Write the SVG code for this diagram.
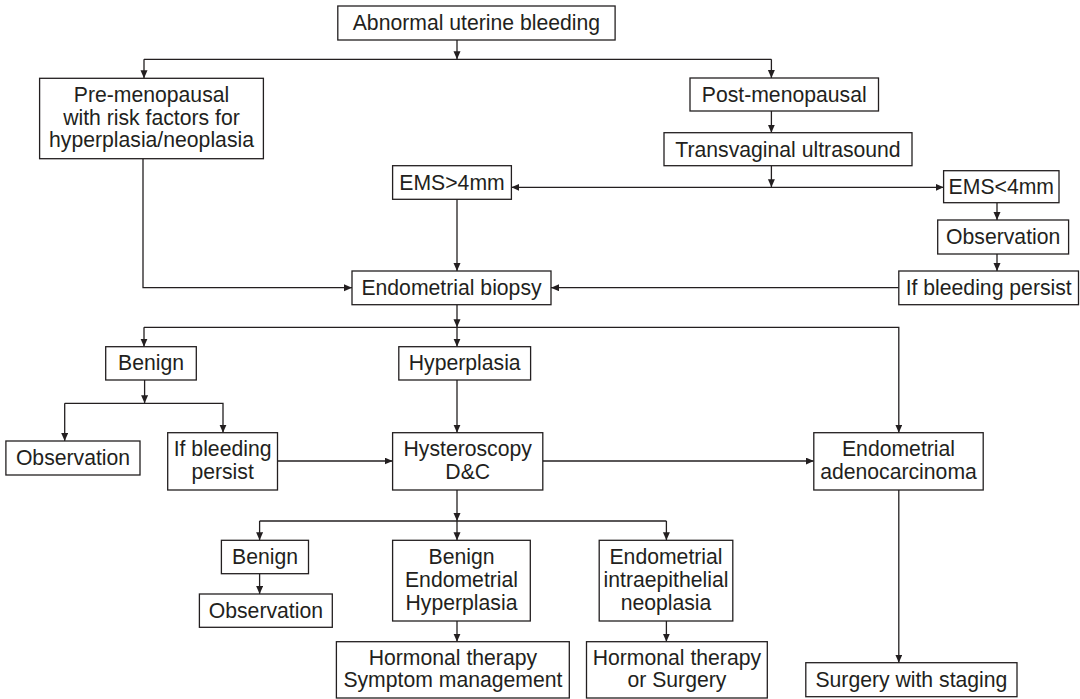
<svg xmlns="http://www.w3.org/2000/svg" width="1080" height="699" viewBox="0 0 1080 699">
<style>
.box{fill:#fff;stroke:#231f20;stroke-width:1.3}
.t{font-family:"Liberation Sans",Arial,sans-serif;font-size:21.2px;fill:#231f20;text-anchor:middle}
.c{fill:none;stroke:#231f20;stroke-width:1.3}
</style>
<defs>
<marker id="ah" markerUnits="userSpaceOnUse" markerWidth="9" markerHeight="8" refX="8" refY="3.5" orient="auto">
<path d="M0,0 L8,3.5 L0,7 z" fill="#231f20"/>
</marker>
</defs>
<rect width="1080" height="699" fill="#fff"/>
<g id="connectors">
<path class="c" d="M457,40 V59.3" marker-end="url(#ah)"/>
<path class="c" d="M144,59.3 H771.4"/>
<path class="c" d="M144,59.3 V78.3" marker-end="url(#ah)"/>
<path class="c" d="M771.4,59.3 V78" marker-end="url(#ah)"/>
<path class="c" d="M771.4,111 V132.7" marker-end="url(#ah)"/>
<path class="c" d="M771.4,165.7 V187.3" marker-end="url(#ah)"/>
<path class="c" d="M700,187.3 H511.4" marker-end="url(#ah)"/>
<path class="c" d="M700,187.3 H943.6" marker-end="url(#ah)"/>
<path class="c" d="M997,202.7 V220" marker-end="url(#ah)"/>
<path class="c" d="M997,254 V271" marker-end="url(#ah)"/>
<path class="c" d="M898.8,287.7 H551" marker-end="url(#ah)"/>
<path class="c" d="M143,158.7 V287.7 H352" marker-end="url(#ah)"/>
<path class="c" d="M457,199.3 V271" marker-end="url(#ah)"/>
<path class="c" d="M457,304.7 V327.3" marker-end="url(#ah)"/>
<path class="c" d="M144,327.3 H898.8 V432.7" marker-end="url(#ah)"/>
<path class="c" d="M144,327.3 V346.7" marker-end="url(#ah)"/>
<path class="c" d="M457,327.3 V346.7" marker-end="url(#ah)"/>
<path class="c" d="M144.6,380 V403.3" marker-end="url(#ah)"/>
<path class="c" d="M64.7,403.3 H223 V432.7" marker-end="url(#ah)"/>
<path class="c" d="M64.7,403.3 V441" marker-end="url(#ah)"/>
<path class="c" d="M277.5,461 H392.6" marker-end="url(#ah)"/>
<path class="c" d="M457,380 V432.7" marker-end="url(#ah)"/>
<path class="c" d="M542.8,461 H813.8" marker-end="url(#ah)"/>
<path class="c" d="M898.8,490 V662.7" marker-end="url(#ah)"/>
<path class="c" d="M457,490 V521" marker-end="url(#ah)"/>
<path class="c" d="M259.6,521 H666.4"/>
<path class="c" d="M259.6,521 V540.3" marker-end="url(#ah)"/>
<path class="c" d="M457,521 V540.3" marker-end="url(#ah)"/>
<path class="c" d="M666.4,521 V540.3" marker-end="url(#ah)"/>
<path class="c" d="M259.6,573.7 V594" marker-end="url(#ah)"/>
<path class="c" d="M457,621 V641.7" marker-end="url(#ah)"/>
<path class="c" d="M666.4,621 V641.7" marker-end="url(#ah)"/>
</g>
<g id="n-aub"><rect class="box" x="337.8" y="6" width="277.3" height="34"/><text class="t" x="476.4" y="30.3">Abnormal uterine bleeding</text></g>
<g id="n-pre"><rect class="box" x="39.6" y="78.3" width="223.8" height="80.4"/><text class="t" x="151.5" y="102">Pre-menopausal</text><text class="t" x="151.5" y="124.6">with risk factors for</text><text class="t" x="151.5" y="147">hyperplasia/neoplasia</text></g>
<g id="n-post"><rect class="box" x="690" y="78" width="188.5" height="33"/><text class="t" x="784.2" y="102">Post-menopausal</text></g>
<g id="n-tvus"><rect class="box" x="664" y="132.7" width="248" height="33"/><text class="t" x="788" y="156.8">Transvaginal ultrasound</text></g>
<g id="n-ems-gt"><rect class="box" x="392.6" y="165.7" width="118.8" height="33.6"/><text class="t" x="452" y="190">EMS&gt;4mm</text></g>
<g id="n-ems-lt"><rect class="box" x="943.6" y="170.7" width="115.4" height="32"/><text class="t" x="1001.3" y="193.8">EMS&lt;4mm</text></g>
<g id="n-obs-r"><rect class="box" x="937.7" y="220" width="130.9" height="34"/><text class="t" x="1003.2" y="244.3">Observation</text></g>
<g id="n-ibp-r"><rect class="box" x="898.8" y="271" width="179.7" height="33.7"/><text class="t" x="988.7" y="295.3">If bleeding persist</text></g>
<g id="n-biopsy"><rect class="box" x="352" y="271" width="199" height="33.7"/><text class="t" x="451.5" y="295.3">Endometrial biopsy</text></g>
<g id="n-benign"><rect class="box" x="105.7" y="346.7" width="90.6" height="33.3"/><text class="t" x="151" y="370.3">Benign</text></g>
<g id="n-hyper"><rect class="box" x="398.8" y="346.7" width="131.8" height="33.3"/><text class="t" x="464.7" y="370.3">Hyperplasia</text></g>
<g id="n-obs-l"><rect class="box" x="5.9" y="441" width="134.1" height="34"/><text class="t" x="73" y="465.3">Observation</text></g>
<g id="n-ibp-l"><rect class="box" x="167.7" y="432.7" width="109.8" height="57.3"/><text class="t" x="222.6" y="456.3">If bleeding</text><text class="t" x="222.6" y="478.6">persist</text></g>
<g id="n-hyst"><rect class="box" x="392.6" y="432.7" width="150.2" height="57.3"/><text class="t" x="467.7" y="456.3">Hysteroscopy</text><text class="t" x="467.7" y="478.6">D&amp;C</text></g>
<g id="n-adeno"><rect class="box" x="813.8" y="432.7" width="169.4" height="57.3"/><text class="t" x="898.5" y="456.3">Endometrial</text><text class="t" x="898.5" y="478.6">adenocarcinoma</text></g>
<g id="n-benign2"><rect class="box" x="221.4" y="540.3" width="87.1" height="33.4"/><text class="t" x="265" y="563.8">Benign</text></g>
<g id="n-obs2"><rect class="box" x="199.4" y="594" width="132.9" height="33.3"/><text class="t" x="265.9" y="617.6">Observation</text></g>
<g id="n-beh"><rect class="box" x="392.6" y="540.3" width="137.7" height="80.7"/><text class="t" x="461.5" y="564.3">Benign</text><text class="t" x="461.5" y="587.3">Endometrial</text><text class="t" x="461.5" y="610.3">Hyperplasia</text></g>
<g id="n-ein"><rect class="box" x="599.2" y="540.3" width="133.6" height="80.7"/><text class="t" x="666" y="564.3">Endometrial</text><text class="t" x="666" y="587.3">intraepithelial</text><text class="t" x="666" y="610.3">neoplasia</text></g>
<g id="n-hts"><rect class="box" x="336.4" y="641.7" width="232.9" height="56.3"/><text class="t" x="452.9" y="664.8">Hormonal therapy</text><text class="t" x="452.9" y="687.3">Symptom management</text></g>
<g id="n-hos"><rect class="box" x="586.5" y="641.7" width="180.8" height="56.3"/><text class="t" x="676.9" y="664.8">Hormonal therapy</text><text class="t" x="676.9" y="687.3">or Surgery</text></g>
<g id="n-surg"><rect class="box" x="805.8" y="662.7" width="211.2" height="34"/><text class="t" x="911.4" y="687.3">Surgery with staging</text></g>
</svg>
